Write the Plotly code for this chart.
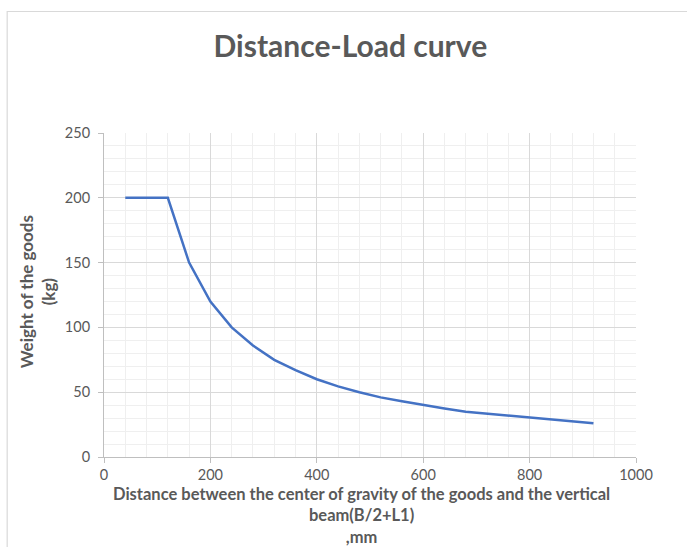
import plotly.graph_objects as go

# Distance from the vertical beam (mm) and the allowable load (kg)
distance_mm = [40, 80, 120, 160, 200, 240, 280, 320, 360, 400, 440, 480, 520,
               560, 600, 640, 680, 720, 760, 800, 840, 880, 920]
load_kg = [200, 200, 200, 150, 120, 100, 86, 75, 67, 60, 54.5, 50, 46,
           43, 40, 37.5, 35, 33.5, 31.5, 30, 28.5, 27.5, 26]

x_ticks = [0, 200, 400, 600, 800, 1000]
y_ticks = [0, 50, 100, 150, 200, 250]

FONT = "Lato"
TEXT_GREY = "#595959"

fig = go.Figure()
fig.add_trace(go.Scatter(
    x=distance_mm, y=load_kg, mode="lines",
    line=dict(color="#4472C4", width=2.5),
    showlegend=False, hoverinfo="x+y",
))

fig.update_layout(
    width=687, height=547,
    margin=dict(l=104, r=51, t=133, b=90),
    paper_bgcolor="white", plot_bgcolor="white",
    font=dict(family=FONT, color=TEXT_GREY),
    title=dict(text="<b>Distance-Load curve</b>", x=0.51, xanchor="center",
               y=0.915, yanchor="middle",
               font=dict(family=FONT, size=30, color=TEXT_GREY)),
    shapes=[dict(type="rect", xref="paper", yref="paper",
                 x0=-0.182, x1=1.4, y0=-0.5, y1=1.375,
                 line=dict(color="#d9d9d9", width=1.2), layer="below")],
    annotations=[
        dict(text="<b>Weight of the goods<br>(kg)</b>",
             xref="paper", yref="paper", x=-0.125, y=0.51,
             xanchor="center", yanchor="middle", textangle=-90,
             showarrow=False,
             font=dict(family=FONT, size=17, color=TEXT_GREY)),
        dict(text="<b>Distance between the center of gravity of the goods and the vertical<br>beam(B/2+L1)<br>,mm</b>",
             xref="paper", yref="paper", x=0.484, y=-0.182,
             xanchor="center", yanchor="middle", showarrow=False,
             font=dict(family=FONT, size=16.5, color=TEXT_GREY)),
    ],
)

fig.update_xaxes(
    range=[0, 1000], tickvals=x_ticks, ticktext=[str(v) for v in x_ticks],
    tickfont=dict(size=14.5, color=TEXT_GREY),
    ticklabelstandoff=0,
    showgrid=True, gridcolor="#d9d9d9", gridwidth=1,
    minor=dict(dtick=40, showgrid=True, gridcolor="#efefef", gridwidth=1),
    showline=True, linecolor="#bfbfbf", linewidth=1,
    ticks="outside", ticklen=5, tickcolor="#bfbfbf",
    zeroline=False, automargin=False,
)
fig.update_yaxes(
    range=[0, 250], tickvals=y_ticks, ticktext=[str(v) for v in y_ticks],
    tickfont=dict(size=14.5, color=TEXT_GREY),
    ticklabelstandoff=5,
    showgrid=True, gridcolor="#d9d9d9", gridwidth=1,
    minor=dict(dtick=10, showgrid=True, gridcolor="#efefef", gridwidth=1),
    showline=True, linecolor="#bfbfbf", linewidth=1,
    ticks="outside", ticklen=5, tickcolor="#bfbfbf",
    zeroline=False, automargin=False,
)

fig.write_html("out.html")
